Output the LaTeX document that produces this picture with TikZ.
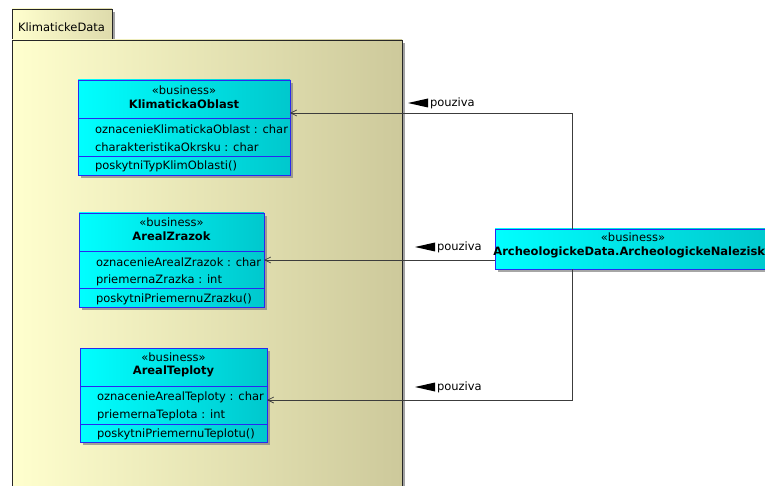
\documentclass[tikz,border=0pt]{standalone}
\usepackage{fontspec}
\setmainfont{DejaVu Sans}
\usetikzlibrary{arrows.meta,calc,shadows}
\definecolor{pkgL}{RGB}{255,255,206}
\definecolor{pkgR}{RGB}{205,201,155}
\definecolor{tabR}{RGB}{222,219,172}
\definecolor{clsL}{RGB}{0,255,255}
\definecolor{clsR}{RGB}{0,200,205}
\definecolor{umlblue}{RGB}{40,40,240}
\definecolor{wire}{RGB}{60,60,60}
\begin{document}
\begin{tikzpicture}[x=1pt,y=-1pt,
  every node/.style={font=\fontsize{11.5}{13}\selectfont, inner sep=0pt, outer sep=0pt},
  pkgpart/.style={draw=black!85, line width=0.9pt, left color=pkgL, right color=#1,
    drop shadow={shadow xshift=3pt, shadow yshift=-3pt, fill=black!45, opacity=0.8}},
  classbox/.style={draw=umlblue, line width=0.8pt, rectangle, anchor=north west,
    left color=clsL, right color=clsR,
    drop shadow={shadow xshift=3pt, shadow yshift=-3pt, fill=black!50, opacity=0.7}},
  sepline/.style={draw=umlblue, line width=0.8pt},
  stereo/.style={anchor=center},
  cname/.style={anchor=center, font=\fontsize{11.5}{13}\selectfont\bfseries},
  member/.style={anchor=west},
  uses/.style={draw=wire, line width=0.7pt, -{Straight Barb[length=6pt,width=6pt]}},
  dirmark/.style={fill=black},
  lbl/.style={anchor=west}
]
\useasboundingbox (0,0) rectangle (765,486);

% package KlimatickeData
\path[pkgpart=tabR] (12,9) rectangle (112,40);
\node[anchor=west] (pkgname) at (18,27) {KlimatickeData};
\path[pkgpart=pkgR] (12,40) rectangle (402,520);

% class KlimatickaOblast
\node[classbox, minimum width=212pt, minimum height=95pt] (kl) at (78,80) {};
\draw[sepline] ($(kl.north west)+(0,38)$) -- ($(kl.north east)+(0,38)$);
\draw[sepline] ($(kl.north west)+(0,76)$) -- ($(kl.north east)+(0,76)$);
\node[stereo] (kls) at ($(kl.north)+(0,10)$) {«business»};
\node[cname] (kln) at ($(kl.north)+(0,24)$) {KlimatickaOblast};
\node[member] (kla1) at ($(kl.north west)+(17,49)$) {oznacenieKlimatickaOblast : char};
\node[member] (kla2) at ($(kl.north west)+(17,67)$) {charakteristikaOkrsku : char};
\node[member] (klm1) at ($(kl.north west)+(17,86)$) {poskytniTypKlimOblasti()};

% class ArealZrazok
\node[classbox, minimum width=185pt, minimum height=94pt] (az) at (79,213) {};
\draw[sepline] ($(az.north west)+(0,38)$) -- ($(az.north east)+(0,38)$);
\draw[sepline] ($(az.north west)+(0,75)$) -- ($(az.north east)+(0,75)$);
\node[stereo] (azs) at ($(az.north)+(0,9)$) {«business»};
\node[cname] (azn) at ($(az.north)+(0,23)$) {ArealZrazok};
\node[member] (aza1) at ($(az.north west)+(17,49)$) {oznacenieArealZrazok : char};
\node[member] (aza2) at ($(az.north west)+(17,67)$) {priemernaZrazka : int};
\node[member] (azm1) at ($(az.north west)+(17,86)$) {poskytniPriemernuZrazku()};

% class ArealTeploty
\node[classbox, minimum width=187pt, minimum height=94pt] (at) at (80,348) {};
\draw[sepline] ($(at.north west)+(0,38)$) -- ($(at.north east)+(0,38)$);
\draw[sepline] ($(at.north west)+(0,76)$) -- ($(at.north east)+(0,76)$);
\node[stereo] (ats) at ($(at.north)+(0,9)$) {«business»};
\node[cname] (atn) at ($(at.north)+(0,23)$) {ArealTeploty};
\node[member] (ata1) at ($(at.north west)+(17,49)$) {oznacenieArealTeploty : char};
\node[member] (ata2) at ($(at.north west)+(17,67)$) {priemernaTeplota : int};
\node[member] (atm1) at ($(at.north west)+(17,86)$) {poskytniPriemernuTeplotu()};

% class ArcheologickeData.ArcheologickeNalezisko
\node[classbox, minimum width=276pt, minimum height=40pt] (an) at (495,229) {};
\node[stereo] (ans) at ($(an.north)+(0,8)$) {«business»};
\node[cname] (ann) at ($(an.north)+(0,23)$) {ArcheologickeData.ArcheologickeNalezisko};

% dependencies
\coordinate (upT) at ($(an.north west)+(77,0)$);
\coordinate (dnT) at ($(an.south west)+(77,0)$);
\coordinate (midT) at ($(an.north west)+(0,31)$);
\coordinate (klIn) at ($(kl.north east)+(0,33)$);
\coordinate (azIn) at ($(az.north east)+(0,47)$);
\coordinate (atIn) at ($(at.north east)+(0,52)$);
\draw[uses] (upT) |- (klIn);
\draw[uses] (midT) -- (midT -| azIn);
\draw[uses] (dnT) |- (atIn);

% labels
\node[lbl] (l1) at (430,103) {pouziva};
\node[lbl] (l2) at (437,247) {pouziva};
\node[lbl] (l3) at (437,387) {pouziva};
\foreach \p in {l1,l2,l3}
  \fill[dirmark] ($(\p.west)+(-22,0)$) -- ($(\p.west)+(-2,-4.5)$) -- ($(\p.west)+(-2,4.5)$) -- cycle;
\end{tikzpicture}
\end{document}
